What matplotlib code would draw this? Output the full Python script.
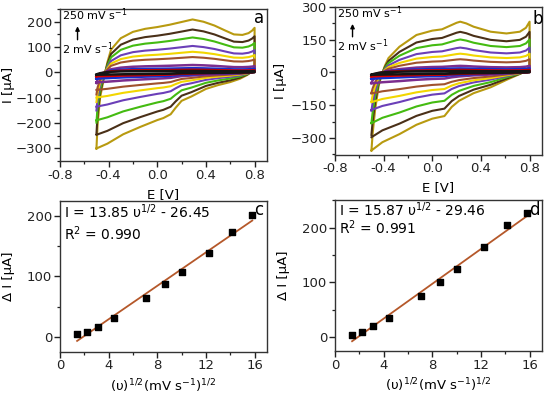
import numpy as np
import matplotlib
matplotlib.use("Agg")
import matplotlib.pyplot as plt
from matplotlib.ticker import MultipleLocator

# ---------------- data ----------------
scan_rates = [2, 5, 10, 20, 50, 75, 100, 150, 200, 250]          # mV/s
curve_colors = ['#151515', '#d80000', '#1030d0', '#7b2d8e', '#a0522d',
                '#f2d600', '#6b3fb8', '#44bb11', '#4a3018', '#b89a10']

# panel a: largest (250 mV/s) voltammogram
a_anodic_E = [-0.5, -0.49, -0.47, -0.44, -0.41, -0.38, -0.3, -0.2, -0.1, 0.0, 0.1,
              0.2, 0.29, 0.38, 0.47, 0.56, 0.63, 0.7, 0.75, 0.78, 0.8]
a_anodic_I = [-300, -200, -100, -25, 40, 90, 135, 160, 172, 179, 188,
              199, 209, 200, 185, 165, 150, 148, 155, 165, 176]
a_cathodic_E = [0.8, 0.78, 0.74, 0.68, 0.6, 0.5, 0.4, 0.28, 0.2, 0.15, 0.11,
                0.05, 0.0, -0.14, -0.28, -0.41, -0.5]
a_cathodic_I = [30, 5, -10, -25, -38, -50, -65, -95, -112, -140, -165,
                -180, -188, -215, -244, -281, -300]
# relative size of each curve (2 ... 250 mV/s), read from plateau heights
a_anodic_scale = [0.03, 0.05, 0.08, 0.14, 0.29, 0.39, 0.50, 0.66, 0.81, 1.0]
a_cathodic_scale = [0.03, 0.05, 0.08, 0.13, 0.23, 0.33, 0.45, 0.63, 0.82, 1.0]

# panel b
b_anodic_E = [-0.5, -0.49, -0.47, -0.44, -0.42, -0.39, -0.36, -0.27, -0.13, 0.0, 0.08,
              0.14, 0.2, 0.23, 0.28, 0.34, 0.48, 0.61, 0.72, 0.77, 0.8]
b_anodic_I = [-358, -280, -172, -60, -19, 30, 66, 118, 172, 192, 198,
              213, 228, 233, 225, 210, 187, 179, 187, 205, 233]
b_cathodic_E = [0.8, 0.78, 0.72, 0.61, 0.48, 0.34, 0.22, 0.16, 0.1, 0.0,
                -0.13, -0.27, -0.41, -0.5]
b_cathodic_I = [35, 10, -7, -34, -68, -95, -130, -158, -200, -212,
                -240, -283, -320, -358]
b_anodic_scale = [0.03, 0.05, 0.08, 0.13, 0.26, 0.37, 0.49, 0.65, 0.80, 1.0]
b_cathodic_scale = [0.03, 0.05, 0.08, 0.14, 0.27, 0.38, 0.48, 0.65, 0.83, 1.0]

# panels c, d
sqrt_rate = [1.41, 2.24, 3.16, 4.47, 7.07, 8.66, 10.0, 12.25, 14.14, 15.81]
c_dI = [4.5, 8.3, 16.6, 31.5, 65, 87, 108, 138, 174, 202]
d_dI = [5, 10.4, 21.4, 35, 74.6, 100, 125, 165, 204, 226]
c_slope, c_intercept = 13.85, -26.45
d_slope, d_intercept = 15.87, -29.46

# ---------------- figure ----------------
plt.rcParams['font.family'] = ['DejaVu Sans']
fig = plt.figure(figsize=(5.5, 3.94), dpi=100)

TICK_FS = 9.5
LAB_FS = 9.5


def style(ax):
    for s in ax.spines.values():
        s.set_linewidth(1.0)
        s.set_color('#333333')
    ax.tick_params(which='both', direction='out', top=False, right=False,
                   labelsize=TICK_FS, colors='#222222', pad=1.5)
    ax.tick_params(which='major', length=4, width=1.0)
    ax.tick_params(which='minor', length=2.5, width=0.9)


def draw_cv(ax, aE, aI, cE, cI, ascale, cscale):
    for i in range(len(scan_rates) - 1, -1, -1):
        E = np.concatenate([aE, cE])
        I = np.concatenate([np.array(aI) * ascale[i], np.array(cI) * cscale[i]])
        lw = 1.5 if i >= 4 else 1.8
        ax.plot(E, I, color=curve_colors[i], lw=lw, solid_joinstyle='round')


# panel a
axa = fig.add_axes([0.109, 0.591, 0.376, 0.386])
draw_cv(axa, a_anodic_E, a_anodic_I, a_cathodic_E, a_cathodic_I,
        a_anodic_scale, a_cathodic_scale)
axa.set_xlim(-0.8, 0.9)
axa.set_ylim(-350, 250)
axa.xaxis.set_minor_locator(MultipleLocator(0.2))
axa.yaxis.set_major_locator(MultipleLocator(100))
axa.yaxis.set_minor_locator(MultipleLocator(50))
axa.set_xticks([-0.8, -0.4, 0.0, 0.4, 0.8])
axa.set_xticklabels(['-0.8', '-0.4', '0.0', '0.4', '0.8'])
axa.set_xlabel('E [V]', fontsize=LAB_FS)
axa.set_ylabel('I [µA]', fontsize=LAB_FS)
axa.xaxis.set_label_coords(0.5, -0.175)
axa.yaxis.set_label_coords(-0.215, 0.5)
style(axa)

# panel b
axb = fig.add_axes([0.609, 0.607, 0.376, 0.375])
draw_cv(axb, b_anodic_E, b_anodic_I, b_cathodic_E, b_cathodic_I,
        b_anodic_scale, b_cathodic_scale)
axb.set_xlim(-0.8, 0.9)
axb.set_ylim(-378, 300)
axb.set_xticks([-0.8, -0.4, 0.0, 0.4, 0.8])
axb.set_xticklabels(['-0.8', '-0.4', '0.0', '0.4', '0.8'])
axb.xaxis.set_minor_locator(MultipleLocator(0.2))
axb.set_yticks([-300, -150, 0, 150, 300])
axb.yaxis.set_minor_locator(MultipleLocator(75))
axb.set_xlabel('E [V]', fontsize=LAB_FS)
axb.set_ylabel('I [µA]', fontsize=LAB_FS)
axb.xaxis.set_label_coords(0.5, -0.18)
axb.yaxis.set_label_coords(-0.23, 0.5)
style(axb)

for ax in (axa, axb):
    ax.text(0.01, 0.965, '250 mV s$^{-1}$', transform=ax.transAxes,
            fontsize=8, va='center', ha='left')
    ax.text(0.01, 0.74, '2 mV s$^{-1}$', transform=ax.transAxes,
            fontsize=8, va='center', ha='left')
    ax.annotate('', xy=(0.085, 0.905), xytext=(0.085, 0.78),
                xycoords='axes fraction',
                arrowprops=dict(arrowstyle='-|>', lw=1.0, color='black',
                                mutation_scale=6))
axa.text(0.965, 0.94, 'a', transform=axa.transAxes, fontsize=12,
         ha='center', va='center')
axb.text(0.98, 0.92, 'b', transform=axb.transAxes, fontsize=12,
         ha='center', va='center')


def draw_fit(ax, y, slope, intercept):
    xs = np.array([sqrt_rate[0], sqrt_rate[-1]])
    ax.plot(xs, slope * xs + intercept, color='#b5582a', lw=1.3, zorder=2)
    ax.scatter(sqrt_rate, y, marker='s', s=14, color='black', zorder=3)
    ax.set_xlim(0, 17)
    ax.xaxis.set_major_locator(MultipleLocator(4))
    ax.xaxis.set_minor_locator(MultipleLocator(2))
    ax.yaxis.set_major_locator(MultipleLocator(100))
    ax.yaxis.set_minor_locator(MultipleLocator(50))
    ax.set_xlabel('(υ)$^{1/2}$(mV s$^{-1}$)$^{1/2}$', fontsize=LAB_FS)
    ax.set_ylabel('Δ I [µA]', fontsize=LAB_FS)
    style(ax)


axc = fig.add_axes([0.109, 0.107, 0.376, 0.383])
draw_fit(axc, c_dI, c_slope, c_intercept)
axc.set_ylim(-25, 225)
axc.xaxis.set_label_coords(0.5, -0.17)
axc.yaxis.set_label_coords(-0.215, 0.5)
axc.text(0.02, 0.93, 'I = 13.85 υ$^{1/2}$ - 26.45', transform=axc.transAxes,
         fontsize=10, va='center', ha='left')
axc.text(0.02, 0.78, 'R$^{2}$ = 0.990', transform=axc.transAxes,
         fontsize=10, va='center', ha='left')
axc.text(0.96, 0.94, 'c', transform=axc.transAxes, fontsize=12,
         ha='center', va='center')

axd = fig.add_axes([0.609, 0.109, 0.376, 0.383])
draw_fit(axd, d_dI, d_slope, d_intercept)
axd.set_ylim(-25, 250)
axd.xaxis.set_label_coords(0.5, -0.17)
axd.yaxis.set_label_coords(-0.215, 0.5)
axd.text(0.02, 0.935, 'I = 15.87 υ$^{1/2}$ - 29.46', transform=axd.transAxes,
         fontsize=10, va='center', ha='left')
axd.text(0.02, 0.815, 'R$^{2}$ = 0.991', transform=axd.transAxes,
         fontsize=10, va='center', ha='left')
axd.text(0.965, 0.935, 'd', transform=axd.transAxes, fontsize=12,
         ha='center', va='center')

fig.savefig('out.png', dpi=100)
